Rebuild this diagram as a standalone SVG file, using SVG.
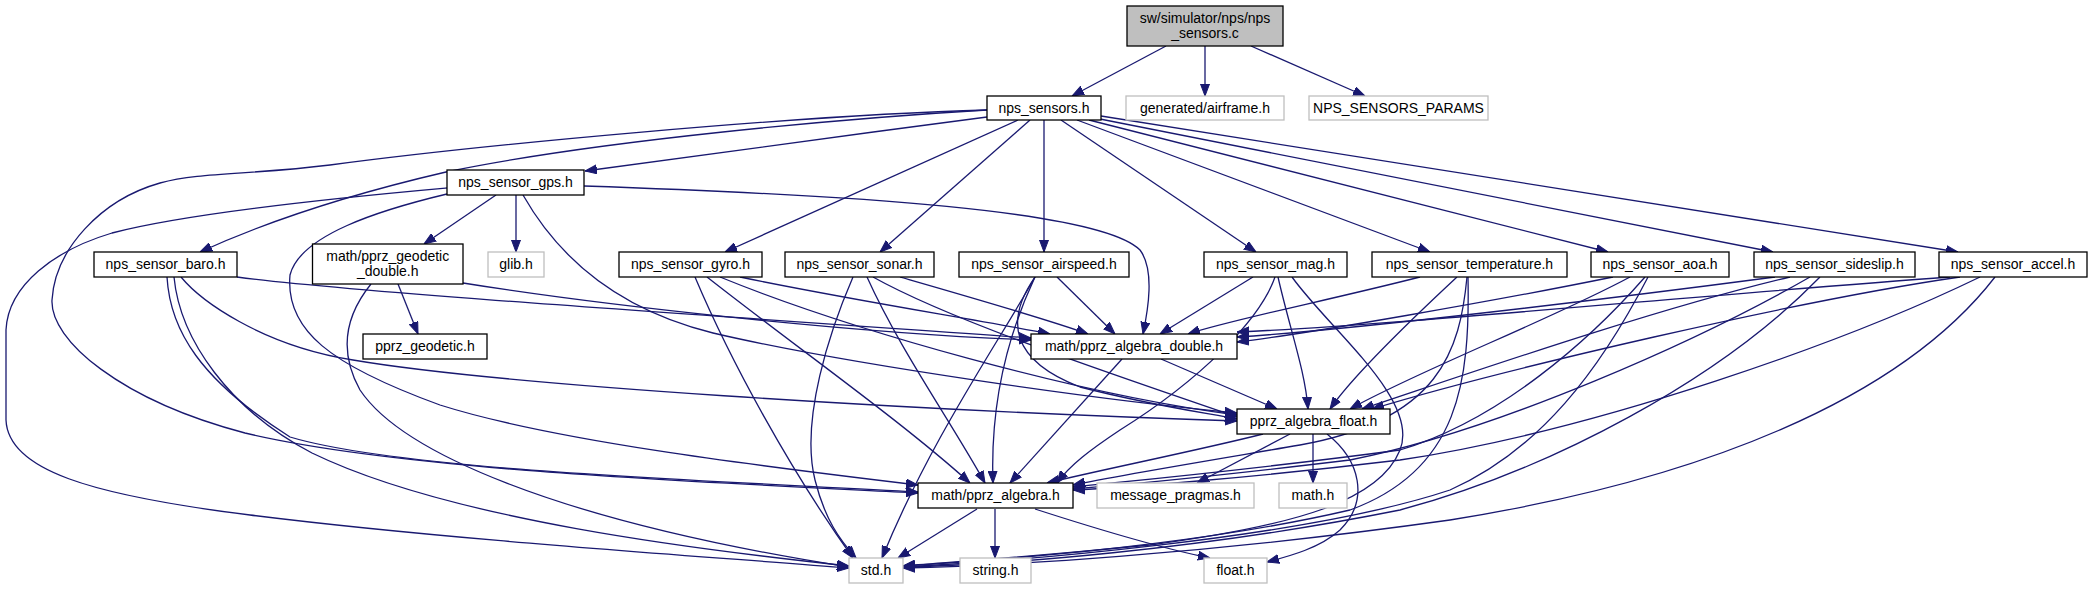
<svg xmlns="http://www.w3.org/2000/svg" width="2092" height="589" viewBox="0 0 2092 589">
<style>
.n rect{fill:#ffffff;stroke:#000000;stroke-width:1.3}
.x rect{fill:#ffffff;stroke:#bfbfbf;stroke-width:1.3}
.r rect{fill:#bfbfbf;stroke:#000000;stroke-width:1.3}
text{font-family:"Liberation Sans",Arial,sans-serif;font-size:14px;fill:#000000;text-anchor:middle}
#edges path{fill:none;stroke:#191970;stroke-width:1.3;marker-end:url(#arr)}
</style>
<defs>
<marker id="arr" viewBox="0 0 12 10" refX="12" refY="5" markerWidth="12" markerHeight="10" markerUnits="userSpaceOnUse" orient="auto">
<path d="M0,0.5 L12,5 L0,9.5 z" fill="#191970" stroke="#191970" stroke-width="1"/>
</marker>
</defs>
<rect width="2092" height="589" fill="#ffffff"/>
<g id="edges">
<!-- root -->
<path d="M1166,46 L1072,96"/>
<path d="M1205,46 L1205,96"/>
<path d="M1251,46 L1365,96"/>
<!-- nps_sensors.h -->
<path d="M987,117 C850,135 700,155 585,171"/>
<path d="M987,110 C850,118 600,140 446,172 C360,192 270,220 200,252"/>
<path d="M987,110 C800,115 480,145 330,165 C250,175 200,172 160,183 C100,200 55,250 52,300 C50,340 120,400 245,433 C400,470 700,482 918,493"/>
<path d="M1018,120 L725,252"/>
<path d="M1030,120 L880,252"/>
<path d="M1044,120 L1044,252"/>
<path d="M1061,120 L1256,252"/>
<path d="M1077,120 L1430,252"/>
<path d="M1089,120 L1608,252"/>
<path d="M1100,119 L1773,252"/>
<path d="M1101,116 L1958,252"/>
<!-- gps -->
<path d="M447,188 C380,194 200,210 112,233 C55,250 8,285 6,330 L6,420 C8,470 90,495 250,515 C450,540 700,556 849,568"/>
<path d="M447,194 C380,210 300,235 290,275 C285,330 330,365 440,405 C550,440 750,465 918,485"/>
<path d="M496,195 L424,244"/>
<path d="M516,195 L516,252"/>
<path d="M523,195 C560,260 620,310 713,333 C850,365 1100,400 1237,413"/>
<path d="M584,186 C850,195 1100,210 1140,250 C1155,270 1148,310 1143,334"/>
<!-- baro -->
<path d="M237,277 C350,292 700,315 1031,338"/>
<path d="M181,277 C200,300 260,345 353,360 C500,385 900,410 1237,421"/>
<path d="M167,277 C170,330 200,380 290,437 C400,470 700,480 918,492"/>
<path d="M174,277 C180,340 230,410 312,453 C450,520 700,550 849,566"/>
<!-- geodetic_double -->
<path d="M398,284 L418,334"/>
<path d="M371,284 C350,310 335,345 360,390 C400,450 550,520 849,567"/>
<path d="M463,283 C600,305 850,333 1031,340"/>
<!-- gyro -->
<path d="M695,277 C730,360 790,470 853,558"/>
<path d="M707,277 C800,350 900,420 970,483"/>
<path d="M720,277 C850,330 1080,395 1237,415"/>
<path d="M740,277 C850,300 980,320 1050,334"/>
<!-- sonar -->
<path d="M853,277 C830,330 800,420 815,480 C825,520 840,540 856,558"/>
<path d="M867,277 C900,350 950,420 985,483"/>
<path d="M873,277 C950,320 1100,370 1237,417"/>
<path d="M900,277 C980,300 1050,320 1088,334"/>
<!-- airspeed -->
<path d="M1035,277 C1000,340 930,440 882,558"/>
<path d="M1035,277 C1010,330 990,400 993,483"/>
<path d="M1035,277 C1005,320 1010,360 1080,387 C1150,405 1200,412 1237,419"/>
<path d="M1057,277 L1115,334"/>
<!-- mag -->
<path d="M1253,277 L1160,334"/>
<path d="M1278,277 C1290,330 1305,370 1308,409"/>
<path d="M1275,277 C1260,320 1200,380 1120,430 C1090,450 1070,465 1057,483"/>
<path d="M1292,277 C1330,330 1420,400 1400,450 C1380,500 1300,525 1150,545 C1000,560 930,563 903,566"/>
<!-- temperature -->
<path d="M1420,277 C1330,300 1230,320 1188,334"/>
<path d="M1457,277 C1400,330 1350,380 1330,409"/>
<path d="M1467,277 C1460,350 1440,420 1300,445 C1200,462 1120,475 1073,485"/>
<path d="M1468,277 C1470,380 1460,470 1350,510 C1200,545 1000,560 903,566"/>
<!-- aoa -->
<path d="M1613,277 C1500,300 1300,335 1237,342"/>
<path d="M1630,277 C1550,320 1420,370 1350,409"/>
<path d="M1645,277 C1590,340 1500,420 1400,450 C1250,470 1120,482 1073,487"/>
<path d="M1648,277 C1600,370 1540,450 1450,490 C1300,540 1000,562 903,567"/>
<!-- sideslip -->
<path d="M1775,277 C1600,300 1350,330 1237,337"/>
<path d="M1790,277 C1650,310 1450,380 1362,409"/>
<path d="M1810,277 C1700,340 1500,430 1350,460 C1200,478 1110,486 1073,489"/>
<path d="M1820,277 C1720,380 1550,470 1400,510 C1200,550 1000,565 903,567"/>
<!-- accel -->
<path d="M1950,277 C1700,295 1400,325 1237,332"/>
<path d="M1960,277 C1800,300 1500,370 1372,409"/>
<path d="M1980,277 C1850,340 1600,430 1400,460 C1250,478 1120,488 1073,490"/>
<path d="M1995,277 C1900,400 1700,480 1450,520 C1200,555 1000,566 903,568"/>
<!-- double -->
<path d="M1161,359 L1277,409"/>
<path d="M1122,359 L1010,483"/>
<!-- float -->
<path d="M1263,434 C1200,450 1100,470 1047,483"/>
<path d="M1290,434 L1197,483"/>
<path d="M1313,434 L1313,483"/>
<path d="M1327,434 C1360,460 1370,500 1340,530 C1320,548 1290,556 1267,562"/>
<!-- algebra -->
<path d="M977,509 L898,558"/>
<path d="M995,509 L995,558"/>
<path d="M1035,509 C1100,530 1170,550 1210,558"/>
</g>
<g id="node_root" class="r"><rect x="1127" y="6" width="156" height="40"/><text x="1205" y="23">sw/simulator/nps/nps</text><text x="1205" y="38">_sensors.c</text></g>
<g id="node_nps_sensors" class="n"><rect x="987" y="96" width="114" height="24"/><text x="1044" y="113">nps_sensors.h</text></g>
<g id="node_airframe" class="x"><rect x="1126" y="96" width="158" height="24"/><text x="1205" y="113">generated/airframe.h</text></g>
<g id="node_params" class="x"><rect x="1309" y="96" width="179" height="24"/><text x="1398.5" y="113">NPS_SENSORS_PARAMS</text></g>
<g id="node_gps" class="n"><rect x="447" y="170" width="137" height="25"/><text x="515.5" y="187">nps_sensor_gps.h</text></g>
<g id="node_baro" class="n"><rect x="94" y="252" width="143" height="25"/><text x="165.5" y="269">nps_sensor_baro.h</text></g>
<g id="node_geodetic_double" class="n"><rect x="312.5" y="244" width="150.5" height="40"/><text x="387.75" y="261">math/pprz_geodetic</text><text x="387.75" y="276">_double.h</text></g>
<g id="node_glib" class="x"><rect x="488" y="252" width="56" height="25"/><text x="516" y="269">glib.h</text></g>
<g id="node_gyro" class="n"><rect x="619" y="252" width="143" height="25"/><text x="690.5" y="269">nps_sensor_gyro.h</text></g>
<g id="node_sonar" class="n"><rect x="785" y="252" width="149" height="25"/><text x="859.5" y="269">nps_sensor_sonar.h</text></g>
<g id="node_airspeed" class="n"><rect x="959" y="252" width="170" height="25"/><text x="1044" y="269">nps_sensor_airspeed.h</text></g>
<g id="node_mag" class="n"><rect x="1204" y="252" width="143" height="25"/><text x="1275.5" y="269">nps_sensor_mag.h</text></g>
<g id="node_temperature" class="n"><rect x="1372" y="252" width="195" height="25"/><text x="1469.5" y="269">nps_sensor_temperature.h</text></g>
<g id="node_aoa" class="n"><rect x="1591" y="252" width="138" height="25"/><text x="1660" y="269">nps_sensor_aoa.h</text></g>
<g id="node_sideslip" class="n"><rect x="1754" y="252" width="161" height="25"/><text x="1834.5" y="269">nps_sensor_sideslip.h</text></g>
<g id="node_accel" class="n"><rect x="1939" y="252" width="148" height="25"/><text x="2013" y="269">nps_sensor_accel.h</text></g>
<g id="node_geodetic" class="n"><rect x="363" y="334" width="124" height="25"/><text x="425" y="351">pprz_geodetic.h</text></g>
<g id="node_algebra_double" class="n"><rect x="1031" y="334" width="206" height="25"/><text x="1134" y="351">math/pprz_algebra_double.h</text></g>
<g id="node_algebra_float" class="n"><rect x="1237" y="409" width="153" height="25"/><text x="1313.5" y="426">pprz_algebra_float.h</text></g>
<g id="node_algebra" class="n"><rect x="918" y="483" width="155" height="25"/><text x="995.5" y="500">math/pprz_algebra.h</text></g>
<g id="node_message_pragmas" class="x"><rect x="1097" y="483" width="157" height="25"/><text x="1175.5" y="500">message_pragmas.h</text></g>
<g id="node_math" class="x"><rect x="1279" y="483" width="68" height="25"/><text x="1313" y="500">math.h</text></g>
<g id="node_std" class="x"><rect x="849" y="558" width="54" height="25"/><text x="876" y="575">std.h</text></g>
<g id="node_string" class="x"><rect x="960" y="558" width="71" height="25"/><text x="995.5" y="575">string.h</text></g>
<g id="node_float" class="x"><rect x="1204" y="558" width="63" height="25"/><text x="1235.5" y="575">float.h</text></g>
</svg>
